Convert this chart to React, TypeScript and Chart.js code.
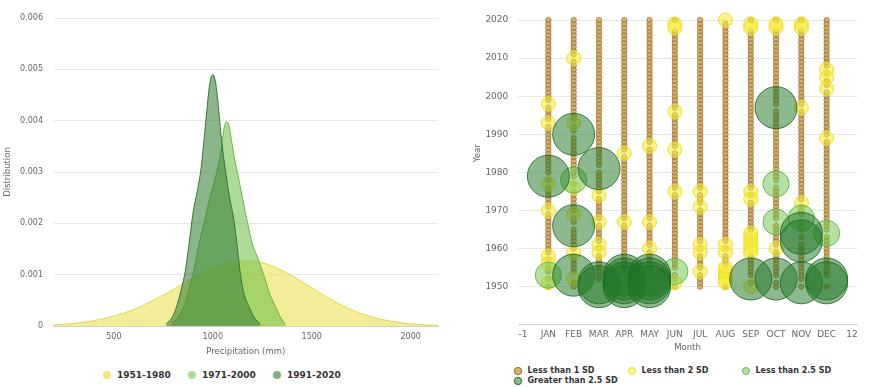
import React, { useEffect, useRef } from 'react';
import { Chart, registerables } from 'chart.js';

Chart.register(...registerables);

const FONT = '"DejaVu Sans", Verdana, sans-serif';

// ---------------- Left chart: precipitation distributions ----------------
const PERIODS = ['1951-1980', '1971-2000', '1991-2020'];

const PRECIP_1951_1980 = [195, 250, 300, 350, 400, 450, 500, 550, 600, 650, 700, 750, 800, 850, 900, 950, 1000, 1050, 1100, 1150, 1175, 1200, 1250, 1300, 1350, 1400, 1450, 1500, 1550, 1600, 1650, 1700, 1750, 1800, 1850, 1900, 1950, 2000, 2050, 2100, 2138];
const DENSITY_1951_1980 = [0.000023, 0.000036, 0.000052, 0.000075, 0.000105, 0.000143, 0.000192, 0.000251, 0.000323, 0.000406, 0.0005, 0.000604, 0.000713, 0.000824, 0.000933, 0.001034, 0.001123, 0.001194, 0.001243, 0.001268, 0.00127, 0.001265, 0.001231, 0.00117, 0.001084, 0.00098, 0.000865, 0.000744, 0.000624, 0.000511, 0.000409, 0.000318, 0.000242, 0.00018, 0.00013, 0.000092, 0.000063, 0.000043, 0.000028, 0.000018, 0.000013];

const PRECIP_1971_2000 = [790, 820, 845, 865, 885, 900, 925, 955, 985, 1020, 1045, 1058, 1070, 1082, 1095, 1108, 1124, 1150, 1176, 1200, 1230, 1257, 1290, 1320, 1345, 1366];
const DENSITY_1971_2000 = [0.00005, 0.00015, 0.0003, 0.0005, 0.0008, 0.001, 0.0015, 0.002, 0.0025, 0.003, 0.0035, 0.00388, 0.00398, 0.0039, 0.0036, 0.0033, 0.003, 0.0025, 0.002, 0.0016, 0.0013, 0.001, 0.0006, 0.00035, 0.00015, 0.00004];

const PRECIP_1991_2020 = [765, 790, 815, 840, 860, 880, 900, 920, 940, 955, 970, 982, 992, 1000, 1008, 1018, 1030, 1045, 1065, 1085, 1105, 1125, 1140, 1160, 1186, 1210, 1240];
const DENSITY_1991_2020 = [0.00004, 0.00014, 0.00035, 0.0007, 0.00105, 0.0016, 0.0022, 0.0026, 0.00305, 0.0036, 0.0042, 0.00465, 0.00485, 0.0049, 0.00485, 0.00465, 0.0042, 0.0036, 0.003, 0.0025, 0.0021, 0.0015, 0.001, 0.0006, 0.00035, 0.00016, 0.00004];

const PRECIP_TICKS = [500, 1000, 1500, 2000];
const DENSITY_TICKS = [0, 0.001, 0.002, 0.003, 0.004, 0.005, 0.006];

// ---------------- Right chart: monthly anomalies by year ----------------
const MONTHS = ['JAN', 'FEB', 'MAR', 'APR', 'MAY', 'JUN', 'JUL', 'AUG', 'SEP', 'OCT', 'NOV', 'DEC'];
const FIRST_YEAR = 1950;
const LAST_YEAR = 2020;

const LESS_THAN_2_SD = [
  [1998, 1993, 1977, 1970, 1958, 1956, 1951],
  [2010, 1993, 1976, 1969, 1959, 1952],
  [1974, 1967, 1961, 1959],
  [1985, 1967],
  [1987, 1967, 1960],
  [2019, 2018, 1996, 1986, 1975, 1951],
  [1975, 1971, 1961, 1959, 1954],
  [2020, 1961, 1959, 1955, 1954, 1953, 1952, 1951],
  [2019, 2018, 1975, 1973, 1964, 1963, 1962, 1961, 1960, 1959, 1950],
  [2019, 2018, 1960],
  [2019, 2018, 1997, 1972],
  [2007, 2005, 2002, 1989],
];
const LESS_THAN_2_5_SD = [
  [1953], [1978], [], [], [], [1954], [], [], [], [1977, 1967], [1968], [1964],
];
const GREATER_THAN_2_5_SD = [
  [1979], [1990, 1966, 1953], [1981, 1951, 1950], [1953, 1952, 1951, 1950], [1953, 1952, 1951, 1950],
  [], [], [], [1952], [1997, 1952], [1964, 1962, 1951], [1952, 1951],
];

const MONTH_TICKS = [-1, 0, 1, 2, 3, 4, 5, 6, 7, 8, 9, 10, 11, 12];
const YEAR_TICKS = [1940, 1950, 1960, 1970, 1980, 1990, 2000, 2010, 2020, 2030];

const SD_LABELS = ['Less than 1 SD', 'Less than 2 SD', 'Less than 2.5 SD', 'Greater than 2.5 SD'];

const SD_STYLE = [
  { fill: 'rgba(200,155,75,0.75)', border: 'rgba(150,108,40,0.9)', r: 2.7 },
  { fill: 'rgba(245,235,50,0.55)', border: 'rgba(236,222,40,1)', r: 7 },
  { fill: 'rgba(120,200,85,0.55)', border: 'rgba(105,185,75,1)', r: 13 },
  { fill: 'rgba(35,120,40,0.52)', border: 'rgba(30,105,35,0.85)', r: 21 },
];

const PERIOD_STYLE = [
  { fill: 'rgba(234,222,70,0.55)', line: 'rgba(225,212,70,0.9)', dot: 'rgba(240,232,120,1)' },
  { fill: 'rgba(105,190,65,0.55)', line: 'rgba(95,175,60,0.9)', dot: 'rgba(172,220,150,1)' },
  { fill: 'rgba(55,128,55,0.58)', line: 'rgba(45,110,45,0.9)', dot: 'rgba(128,175,128,1)' },
];

function toPoints(xs: number[], ys: number[]) {
  return xs.map((x, i) => ({ x, y: ys[i] }));
}

function bubblePoints(byMonth: number[][]) {
  const pts: { x: number; y: number }[] = [];
  byMonth.forEach((years, m) => years.forEach((y) => pts.push({ x: m, y })));
  return pts;
}

function lessThanOneSdPoints() {
  const pts: { x: number; y: number }[] = [];
  for (let m = 0; m < MONTHS.length; m++) {
    const other = new Set([...LESS_THAN_2_SD[m], ...LESS_THAN_2_5_SD[m], ...GREATER_THAN_2_5_SD[m]]);
    for (let y = FIRST_YEAR; y <= LAST_YEAR; y++) {
      if (!other.has(y)) pts.push({ x: m, y });
    }
  }
  return pts;
}

function DensityChart() {
  const ref = useRef<HTMLCanvasElement>(null);
  useEffect(() => {
    const series = [
      [PRECIP_1951_1980, DENSITY_1951_1980],
      [PRECIP_1971_2000, DENSITY_1971_2000],
      [PRECIP_1991_2020, DENSITY_1991_2020],
    ];
    const chart = new Chart(ref.current!, {
      type: 'line',
      data: {
        datasets: series.map(([xs, ys], i) => ({
          label: PERIODS[i],
          data: toPoints(xs, ys),
          backgroundColor: PERIOD_STYLE[i].fill,
          borderColor: PERIOD_STYLE[i].line,
          borderWidth: 1,
          pointRadius: 0,
          fill: 'origin',
          cubicInterpolationMode: 'monotone',
          order: 3 - i,
        })),
      },
      options: {
        responsive: false,
        animation: false,
        events: [],
        layout: { padding: { left: 0, right: 2, top: 18, bottom: 0 } },
        plugins: { legend: { display: false }, tooltip: { enabled: false } },
        scales: {
          x: {
            type: 'linear',
            min: 195,
            max: 2138,
            afterFit: (s: any) => { s.height = 34; },
            afterBuildTicks: (s: any) => { s.ticks = PRECIP_TICKS.map((value) => ({ value })); },
            grid: { display: false, drawTicks: false },
            border: { display: true, color: '#cfcfcf', width: 1 },
            ticks: { color: '#666', font: { family: FONT, size: 8 }, padding: 6, maxRotation: 0, callback: (v: any) => String(v) },
            title: { display: true, text: 'Precipitation (mm)', color: '#666', font: { family: FONT, size: 8.5 }, padding: { top: 0, bottom: 3 } },
          },
          y: {
            type: 'linear',
            min: 0,
            max: 0.006,
            afterFit: (s: any) => { s.width = 53.5; },
            afterBuildTicks: (s: any) => { s.ticks = DENSITY_TICKS.map((value) => ({ value })); },
            grid: { color: '#e8e8e8', drawTicks: false },
            border: { display: false },
            ticks: {
              color: '#666',
              font: { family: FONT, size: 8 },
              padding: 10.5,
              callback: (v: any) => (Number(v) === 0 ? '0' : Number(v).toFixed(3)),
            },
            title: { display: true, text: 'Distribution', color: '#666', font: { family: FONT, size: 8.5 }, padding: { top: 3, bottom: 0 } },
          },
        },
      },
    } as any);
    return () => chart.destroy();
  }, []);
  return <canvas ref={ref} width={440} height={360} style={{ position: 'absolute', left: 0, top: 0, width: 440, height: 360 }} />;
}

function AnomalyChart() {
  const ref = useRef<HTMLCanvasElement>(null);
  useEffect(() => {
    const groups = [lessThanOneSdPoints(), bubblePoints(LESS_THAN_2_SD), bubblePoints(LESS_THAN_2_5_SD), bubblePoints(GREATER_THAN_2_5_SD)];
    const chart = new Chart(ref.current!, {
      type: 'bubble',
      data: {
        datasets: groups.map((pts, i) => ({
          label: SD_LABELS[i],
          data: pts,
          radius: SD_STYLE[i].r,
          backgroundColor: SD_STYLE[i].fill,
          borderColor: SD_STYLE[i].border,
          borderWidth: i === 0 ? 0.8 : 1,
          order: 4 - i,
        })),
      },
      options: {
        responsive: false,
        animation: false,
        events: [],
        layout: { padding: { left: 0, right: 0, top: 16.3, bottom: 0 } },
        plugins: { legend: { display: false }, tooltip: { enabled: false } },
        scales: {
          x: {
            type: 'linear',
            min: -1.2,
            max: 12.2,
            afterFit: (s: any) => { s.height = 35.3; },
            afterBuildTicks: (s: any) => { s.ticks = MONTH_TICKS.map((value) => ({ value })); },
            grid: { display: false, drawTicks: false },
            border: { display: true, color: '#cfcfcf', width: 1 },
            ticks: {
              color: '#666',
              font: { family: FONT, size: 9 },
              padding: 5,
              maxRotation: 0,
              autoSkip: false,
              callback: (v: any) => { const n = Number(v); return n >= 0 && n < MONTHS.length ? MONTHS[n] : String(n); },
            },
            title: { display: true, text: 'Month', color: '#666', font: { family: FONT, size: 8.5 }, padding: { top: 0, bottom: 7.6 } },
          },
          y: {
            type: 'linear',
            min: 1940,
            max: 2030,
            afterFit: (s: any) => { s.width = 78; },
            afterBuildTicks: (s: any) => { s.ticks = YEAR_TICKS.map((value) => ({ value })); },
            grid: { color: (c: any) => (c.tick && c.tick.value === 1940 ? 'rgba(0,0,0,0)' : '#e8e8e8'), drawTicks: false },
            border: { display: false },
            ticks: {
              color: '#666',
              font: { family: FONT, size: 9 },
              padding: 9.7,
              callback: (v: any) => (Number(v) === 1940 ? '' : String(v)),
            },
            title: { display: true, text: 'Year', color: '#666', font: { family: FONT, size: 8.5 }, padding: { top: 32.9, bottom: 0 } },
          },
        },
      },
    } as any);
    return () => chart.destroy();
  }, []);
  return <canvas ref={ref} width={439} height={400} style={{ position: 'absolute', left: 440, top: -40, width: 439, height: 400 }} />;
}

function LeftLegend() {
  return (
    <div style={{ position: 'absolute', left: 103, top: 369, display: 'flex', height: 12 }}>
      {PERIODS.map((p, i) => (
        <div key={p} style={{ width: 85, display: 'flex', alignItems: 'center', height: 12 }}>
          <span style={{ width: 8, height: 8, borderRadius: 4, background: PERIOD_STYLE[i].dot, marginRight: 6, flex: 'none' }} />
          <span style={{ font: `bold 9px ${FONT}`, color: '#333', whiteSpace: 'nowrap' }}>{p}</span>
        </div>
      ))}
    </div>
  );
}

function RightLegend() {
  return (
    <div style={{ position: 'absolute', left: 514, top: 365.5, width: 342, display: 'flex', flexWrap: 'wrap' }}>
      {SD_LABELS.map((l, i) => (
        <div key={l} style={{ width: 114, display: 'flex', alignItems: 'center', height: 10.3 }}>
          <span style={{ width: 6, height: 6, borderRadius: 4, background: SD_STYLE[i].fill, border: `1px solid ${SD_STYLE[i].border}`, marginRight: 5.5, flex: 'none' }} />
          <span style={{ font: `bold 8px ${FONT}`, color: '#333', whiteSpace: 'nowrap' }}>{l}</span>
        </div>
      ))}
    </div>
  );
}

export default function App() {
  return (
    <div style={{ position: 'fixed', left: 0, top: 0, width: 877, height: 387, overflow: 'hidden', background: '#fff' }}>
      <DensityChart />
      <AnomalyChart />
      <LeftLegend />
      <RightLegend />
    </div>
  );
}
